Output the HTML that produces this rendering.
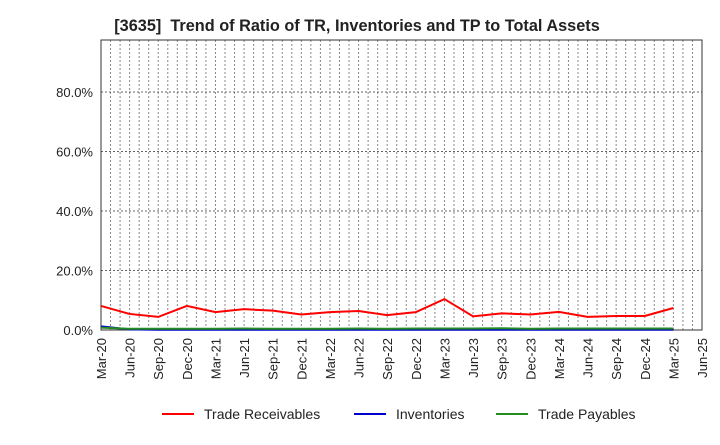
<!DOCTYPE html>
<html><head><meta charset="utf-8"><style>
body{margin:0;background:#fff;font-family:"Liberation Sans",sans-serif}
</style></head><body>
<svg id="c" width="720" height="440" xmlns="http://www.w3.org/2000/svg">
<text x="357" y="31" text-anchor="middle" font-size="16.3" font-weight="bold" fill="#222" xml:space="preserve">[3635]  Trend of Ratio of TR, Inventories and TP to Total Assets</text>
<g id="grid"></g><g id="axes"></g><g id="series"></g>
<g>
<line x1="162" y1="414" x2="194" y2="414" stroke="#f00" stroke-width="2"/>
<text x="204" y="419" font-size="14" fill="#222">Trade Receivables</text>
<line x1="354" y1="414" x2="386" y2="414" stroke="#00c" stroke-width="2"/>
<text x="396" y="419" font-size="14" fill="#222">Inventories</text>
<line x1="496" y1="414" x2="528" y2="414" stroke="#228b22" stroke-width="2"/>
<text x="538" y="419" font-size="14" fill="#222">Trade Payables</text>
</g>
</svg>
<script>
const xLabels=["Mar-20","Jun-20","Sep-20","Dec-20","Mar-21","Jun-21","Sep-21","Dec-21","Mar-22","Jun-22","Sep-22","Dec-22","Mar-23","Jun-23","Sep-23","Dec-23","Mar-24","Jun-24","Sep-24","Dec-24","Mar-25","Jun-25"];
const yTicks=[0,20,40,60,80];
const receivables=[8.1,5.4,4.4,8.1,6.0,7.0,6.5,5.2,6.0,6.4,5.0,6.0,10.4,4.6,5.6,5.2,6.1,4.4,4.7,4.7,7.4];
const inventories=[1.2,0.2,0.1,0.1,0.1,0.1,0.1,0.1,0.1,0.1,0.1,0.1,0.1,0.1,0.1,0.1,0.1,0.1,0.1,0.1,0.1];
const payables=[0.8,0.4,0.4,0.4,0.4,0.5,0.4,0.4,0.4,0.5,0.4,0.5,0.5,0.5,0.6,0.4,0.5,0.5,0.5,0.5,0.5];
const L=101,R=702,T=40,B=330,yMax=97.5;
const NS="http://www.w3.org/2000/svg";
const X=i=>L+(R-L)*i/(xLabels.length-1);
const Y=v=>B-(B-T)*v/yMax;
function mk(t,a,p){const e=document.createElementNS(NS,t);for(const k in a)e.setAttribute(k,a[k]);p.appendChild(e);return e;}
const g=document.getElementById('grid'),ax=document.getElementById('axes'),s=document.getElementById('series');
const months=(xLabels.length-1)*3;
for(let m=1;m<months;m++){const x=L+(R-L)*m/months;
 const l=mk('line',{x1:x,x2:x,y1:T,y2:B,stroke:'#888','stroke-dasharray':'2,2','stroke-width':1},g);
 
 }
yTicks.forEach(v=>{const y=Y(v);
 if(v>0){const l=mk('line',{x1:L,x2:R,y1:y,y2:y,stroke:'#666','stroke-dasharray':'2,2','stroke-width':1},g);
 
 }
 const t=mk('text',{x:L-8,y:y+5,'text-anchor':'end','font-size':13,fill:'#222'},ax);t.textContent=v.toFixed(1)+'%';
 
 });
const fr=mk('rect',{x:L,y:T,width:R-L,height:B-T,fill:'none',stroke:'#333','stroke-width':1},ax);


xLabels.forEach((lb,i)=>{const x=X(i);
 const t=mk('text',{x:x+5,y:B+8,'text-anchor':'end','font-size':13,fill:'#222',transform:`rotate(-90 ${x+5} ${B+8})`},ax);t.textContent=lb;
 
 });
[[inventories,'#00c','inventories-line'],[payables,'#228b22','trade-payables-line'],[receivables,'#f00','trade-receivables-line']].forEach(([d,c,n])=>{
 const p=mk('polyline',{points:d.map((v,i)=>X(i)+','+Y(v)).join(' '),fill:'none',stroke:c,'stroke-width':2},s);
 
 });
</script>
</body></html>
